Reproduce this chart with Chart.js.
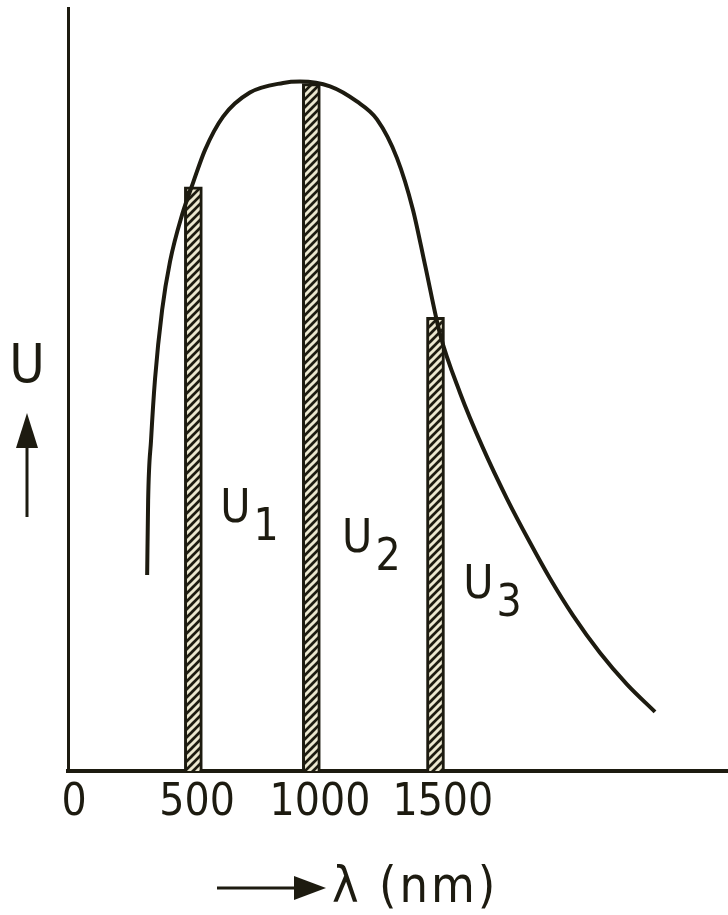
<!DOCTYPE html>
<html>
<head>
<meta charset="utf-8">
<script src="https://cdn.jsdelivr.net/npm/chart.js@4"></script>
<style>
    html, body { margin: 0; padding: 0; background: #fff; }
    canvas { display: block; }
</style>
</head>
<body>
<canvas id="chart-u" width="728" height="915"></canvas>
<script>
// Curva U(λ), dibujada a mano en el original
const curveLambda = [297, 301, 313, 329, 358, 390, 439, 484, 533, 606, 715, 850, 919, 1041, 1150, 1232, 1313, 1378, 1427, 1489, 1570, 1663, 1761, 1855, 1936, 2030, 2139, 2249, 2363];
const curveU = [28.5, 39.4, 48.2, 57, 67.1, 74.1, 80.9, 85.6, 90.4, 95.2, 98.7, 100.1, 100.3, 99.6, 97.4, 94.8, 89.2, 81.7, 73.7, 63.5, 55, 47, 39.6, 33.2, 28, 22.6, 17.2, 12.6, 8.6];

// Franjas U1, U2, U3
const stripLambda = [485, 965, 1470];
const stripU = [85, 100, 66];
const stripNames = ['1', '2', '3'];

// Etiquetas del eje x
const tickValues = [0, 500, 1000, 1500];

const INK = '#1d1b10';
const FONT = '"DejaVu Sans Condensed", "DejaVu Sans", sans-serif';

function makeHatch() {
    const c = document.createElement('canvas');
    c.width = 8; c.height = 8;
    const g = c.getContext('2d');
    g.fillStyle = INK;
    g.fillRect(0, 0, 8, 8);
    g.strokeStyle = '#ebe7cf';
    g.lineWidth = 3;
    g.beginPath();
    g.moveTo(-1, 9); g.lineTo(9, -1);
    g.moveTo(-5, 5); g.lineTo(5, -5);
    g.moveTo(3, 13); g.lineTo(13, 3);
    g.stroke();
    return g.createPattern(c, 'repeat');
}

// Etiquetas U1..U3 y títulos de los ejes con flechas
const sketchLabels = {
    id: 'sketchLabels',
    afterDraw(chart) {
        const { ctx, scales: { x, y } } = chart;
        const anchors = [[594, 36.2], [1090, 31.9], [1583, 25.2]];
        ctx.save();
        ctx.fillStyle = INK;
        ctx.textAlign = 'left';
        ctx.textBaseline = 'alphabetic';
        anchors.forEach(([lx, ly], i) => {
            const px = x.getPixelForValue(lx);
            const py = y.getPixelForValue(ly);
            ctx.font = `46px ${FONT}`;
            ctx.fillText('U', px, py);
            const w = ctx.measureText('U').width;
            ctx.font = `44px ${FONT}`;
            ctx.fillText(stripNames[i], px + w + 3, py + 18);
        });

        // eje y: "U" con flecha hacia arriba
        ctx.font = `54px ${FONT}`;
        ctx.textAlign = 'center';
        ctx.fillText('U', 27, 382);
        ctx.strokeStyle = INK;
        ctx.lineWidth = 3;
        ctx.beginPath();
        ctx.moveTo(27, 517); ctx.lineTo(27, 440);
        ctx.stroke();
        ctx.beginPath();
        ctx.moveTo(27, 413); ctx.lineTo(16, 448); ctx.lineTo(38, 448);
        ctx.closePath(); ctx.fill();

        // eje x: flecha y "λ (nm)"
        ctx.beginPath();
        ctx.moveTo(217, 888); ctx.lineTo(300, 888);
        ctx.stroke();
        ctx.beginPath();
        ctx.moveTo(326, 888); ctx.lineTo(294, 876); ctx.lineTo(294, 900);
        ctx.closePath(); ctx.fill();
        ctx.font = `50px ${FONT}`;
        ctx.letterSpacing = '3px';
        ctx.textAlign = 'left';
        ctx.fillText('λ (nm)', 332, 902);
        ctx.restore();
    }
};

new Chart(document.getElementById('chart-u'), {
    type: 'bar',
    data: {
        datasets: [{
            type: 'line',
            data: curveLambda.map((l, i) => ({ x: l, y: curveU[i] })),
            borderColor: INK,
            borderWidth: 4,
            pointRadius: 0,
            cubicInterpolationMode: 'monotone',
            fill: false,
            order: 0
        }, {
            type: 'bar',
            data: stripLambda.map((l, i) => ({ x: l, y: stripU[i] })),
            backgroundColor: makeHatch(),
            borderColor: INK,
            borderWidth: 3,
            barThickness: 18,
            grouped: false,
            order: 1
        }]
    },
    options: {
        responsive: false,
        animation: false,
        devicePixelRatio: 1,
        layout: { padding: { top: 8, left: 0, right: 0, bottom: 0 } },
        plugins: { legend: { display: false }, tooltip: { enabled: false } },
        scales: {
            x: {
                type: 'linear',
                min: -25,
                max: 2660,
                offset: false,
                afterBuildTicks: scale => { scale.ticks = tickValues.map(v => ({ value: v })); },
                afterFit: scale => { scale.height = 144; },
                grid: { display: false, drawTicks: false },
                border: { display: true, color: INK, width: 4 },
                ticks: {
                    color: INK,
                    padding: 6,
                    maxRotation: 0,
                    autoSkip: false,
                    font: { family: FONT, size: 44 },
                    callback: v => String(v)
                }
            },
            y: {
                min: 0,
                max: 111,
                afterFit: scale => { scale.width = 68; },
                grid: { display: false, drawTicks: false },
                border: { display: true, color: INK, width: 3 },
                ticks: { display: false }
            }
        }
    },
    plugins: [sketchLabels]
});
</script>
</body>
</html>
